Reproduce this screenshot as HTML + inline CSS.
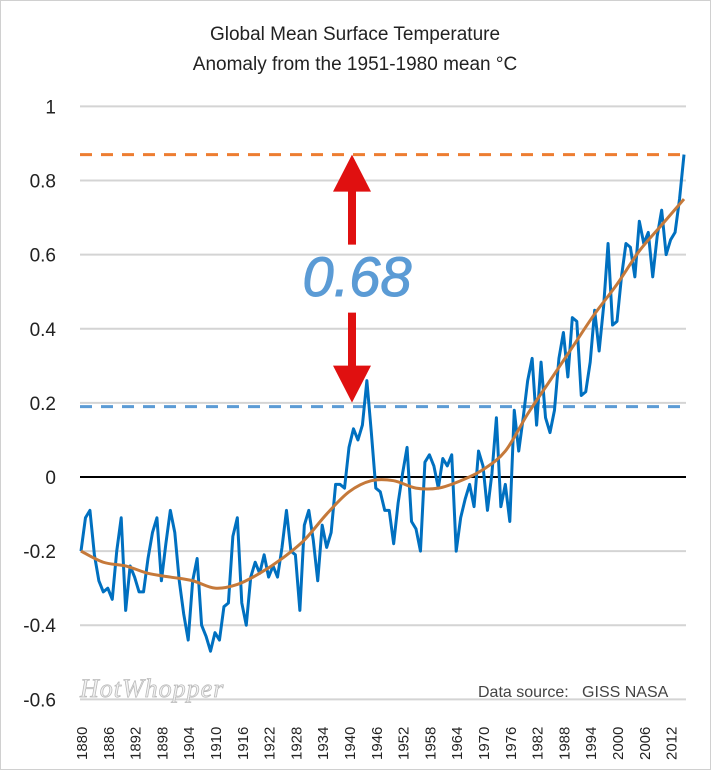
<!DOCTYPE html>
<html><head><meta charset="utf-8"><style>
body{margin:0;background:#fff}
svg{display:block;font-family:"Liberation Sans",sans-serif}
</style></head><body>
<svg id="chart" width="711" height="770" viewBox="0 0 711 770">
<rect x="0.5" y="0.5" width="710" height="769" fill="#fff" stroke="#d0d0d0"/>
<text x="355" y="40" text-anchor="middle" font-size="19" fill="#222">Global Mean Surface Temperature</text>
<text x="355" y="70" text-anchor="middle" font-size="19" fill="#222">Anomaly from the 1951-1980 mean °C</text>
<g id="grid"></g><g id="yticks"></g><g id="xticks"></g><g id="series"></g>
<text x="80" y="697" font-size="26" font-style="italic" fill="#f2f2f2" stroke="#bbb" stroke-width="0.8" font-family="Liberation Serif,serif" letter-spacing="1">HotWhopper</text>
<text x="478" y="697" font-size="16" fill="#444" style="white-space:pre">Data source:   GISS NASA</text>
</svg>
<script>
const years=[];for(let y=1880;y<=2015;y++)years.push(y);
const anomalies=[-0.20,-0.11,-0.09,-0.21,-0.28,-0.31,-0.30,-0.33,-0.20,-0.11,-0.36,-0.24,-0.27,-0.31,-0.31,-0.22,-0.15,-0.11,-0.28,-0.18,-0.09,-0.15,-0.28,-0.37,-0.44,-0.28,-0.22,-0.40,-0.43,-0.47,-0.42,-0.44,-0.35,-0.34,-0.16,-0.11,-0.34,-0.40,-0.27,-0.23,-0.26,-0.21,-0.27,-0.24,-0.27,-0.19,-0.09,-0.20,-0.21,-0.36,-0.13,-0.09,-0.17,-0.28,-0.13,-0.19,-0.15,-0.02,-0.02,-0.03,0.08,0.13,0.10,0.14,0.26,0.12,-0.03,-0.04,-0.09,-0.09,-0.18,-0.07,0.01,0.08,-0.12,-0.14,-0.20,0.04,0.06,0.03,-0.03,0.05,0.03,0.06,-0.20,-0.11,-0.06,-0.02,-0.08,0.07,0.03,-0.09,0.01,0.16,-0.08,-0.02,-0.12,0.18,0.07,0.16,0.26,0.32,0.14,0.31,0.16,0.12,0.18,0.32,0.39,0.27,0.43,0.42,0.22,0.23,0.31,0.45,0.34,0.46,0.63,0.41,0.42,0.54,0.63,0.62,0.54,0.69,0.63,0.66,0.54,0.65,0.72,0.60,0.64,0.66,0.75,0.87];
const smoothYears=[1880,1885,1890,1895,1900,1905,1910,1915,1920,1925,1930,1935,1940,1945,1950,1955,1960,1965,1970,1975,1980,1985,1990,1995,2000,2005,2010,2015];
const smoothValues=[-0.20,-0.23,-0.24,-0.26,-0.27,-0.28,-0.30,-0.29,-0.26,-0.22,-0.17,-0.10,-0.04,-0.01,-0.01,-0.03,-0.03,-0.01,0.02,0.07,0.17,0.26,0.35,0.44,0.52,0.61,0.68,0.75];
const yTicks=[1,0.8,0.6,0.4,0.2,0,-0.2,-0.4,-0.6];
const yTickLabels=["1","0.8","0.6","0.4","0.2","0","-0.2","-0.4","-0.6"];
const xTickYears=[1880,1886,1892,1898,1904,1910,1916,1922,1928,1934,1940,1946,1952,1958,1964,1970,1976,1982,1988,1994,2000,2006,2012];
const startLevel=0.19, endLevel=0.87, diffLabel="0.68";

const NS="http://www.w3.org/2000/svg";
const X=y=>81+(y-1880)*(603/135);
const Y=v=>477-v*370.6;
function mk(tag,attrs,parent,text){const e=document.createElementNS(NS,tag);for(const k in attrs)e.setAttribute(k,attrs[k]);if(text!==undefined)e.textContent=text;parent.appendChild(e);return e;}
const grid=document.getElementById('grid'),yt=document.getElementById('yticks'),xt=document.getElementById('xticks'),ser=document.getElementById('series');
yTicks.forEach((v,i)=>{
  const l=mk('line',{x1:80,x2:686,y1:Y(v),y2:Y(v),stroke:v===0?'#000':'#d4d4d4','stroke-width':2},grid);
  
  
  const t=mk('text',{x:56,y:Y(v)+7,'text-anchor':'end','font-size':19,fill:'#222'},yt,yTickLabels[i]);
  
  
});
xTickYears.forEach(yr=>{
  const t=mk('text',{transform:`translate(${X(yr)+6},760) rotate(-90)`,'font-size':15,fill:'#222'},xt,String(yr));
  
  
});
const d1=mk('line',{x1:80,x2:686,y1:Y(endLevel),y2:Y(endLevel),stroke:'#ed7d31','stroke-width':3,'stroke-dasharray':'12,9'},ser);


const d2=mk('line',{x1:80,x2:686,y1:Y(startLevel),y2:Y(startLevel),stroke:'#5b9bd5','stroke-width':3,'stroke-dasharray':'12,9'},ser);


const p1=mk('polyline',{points:years.map((y,i)=>X(y)+','+Y(anomalies[i])).join(' '),fill:'none',stroke:'#0070c0','stroke-width':3,'stroke-linejoin':'round'},ser);


let d='M'+X(smoothYears[0])+' '+Y(smoothValues[0]);
for(let i=0;i<smoothYears.length-1;i++){
  const p0=i>0?i-1:i,p3=i+2<smoothYears.length?i+2:i+1;
  const x0=X(smoothYears[p0]),y0=Y(smoothValues[p0]),x1=X(smoothYears[i]),y1=Y(smoothValues[i]),x2=X(smoothYears[i+1]),y2=Y(smoothValues[i+1]),x3=X(smoothYears[p3]),y3=Y(smoothValues[p3]);
  d+=` C${x1+(x2-x0)/6} ${y1+(y2-y0)/6} ${x2-(x3-x1)/6} ${y2-(y3-y1)/6} ${x2} ${y2}`;
}
const p2=mk('path',{d:d,fill:'none',stroke:'#c5793a','stroke-width':3},ser);


const ax=352,yTop=Y(endLevel),yBot=Y(startLevel);
const a1=mk('path',{d:`M${ax} ${yTop} L${ax-19} ${yTop+37} L${ax-4} ${yTop+37} L${ax-4} ${yTop+90} L${ax+4} ${yTop+90} L${ax+4} ${yTop+37} L${ax+19} ${yTop+37} Z`,fill:'#e01010'},ser);


const a2=mk('path',{d:`M${ax} ${yBot-4} L${ax-19} ${yBot-41} L${ax-4} ${yBot-41} L${ax-4} ${yBot-94} L${ax+4} ${yBot-94} L${ax+4} ${yBot-41} L${ax+19} ${yBot-41} Z`,fill:'#e01010'},ser);


const lbl=mk('text',{x:357,y:296,'text-anchor':'middle','font-size':56,'font-style':'italic',fill:'#5b9bd5',stroke:'#5b9bd5','stroke-width':1},ser,diffLabel);


</script>
</body></html>
